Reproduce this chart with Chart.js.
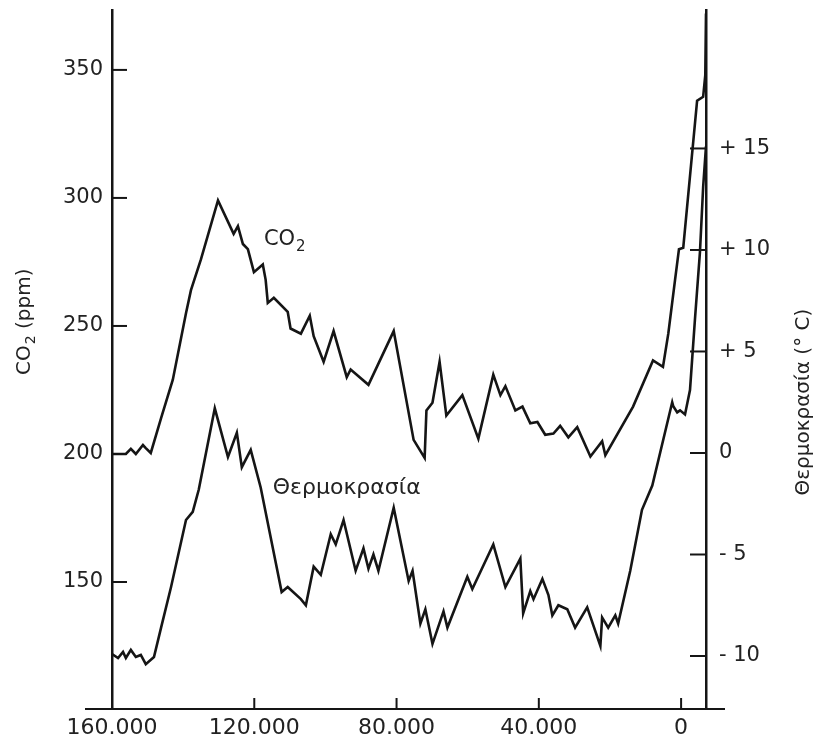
<!DOCTYPE html>
<html>
<head>
<meta charset="utf-8">
<script src="https://cdn.jsdelivr.net/npm/chart.js@4.4.0/dist/chart.umd.min.js"></script>
<style>
  html, body { margin: 0; padding: 0; background: #fff; }
</style>
</head>
<body>
<canvas id="vostokChart" width="820" height="740"></canvas>
<script>
"use strict";

// thousands of years before present
const co2Years = [160, 158.3, 156.1, 154.7, 153.3, 151.3, 150.5, 149.1, 146.2, 142.9,
  139.2, 137.8, 135.0, 130.2, 125.8, 124.6, 123.2, 121.8, 120.1, 117.6,
  116.8, 116.2, 114.5, 110.6, 109.8, 106.9, 104.4, 103.3, 100.5, 97.7,
  94.0, 92.9, 87.9, 80.8, 75.2, 72.1, 71.6, 69.9, 67.9, 66.0,
  61.5, 57.0, 52.8, 50.8, 49.4, 46.6, 44.6, 42.4, 40.4, 38.2,
  35.9, 34.0, 31.7, 29.2, 25.5, 22.2, 21.3, 13.5, 7.9, 5.1,
  3.6, 1.7, 0.6, -0.6, -4.5, -6.2, -6.8, -7.0];
const co2Ppm = [200, 200, 200, 202, 200, 203.5, 202.3, 200.4, 214, 229,
  255, 264, 276, 299, 286, 289, 282, 280, 271, 274,
  268, 259, 261, 255.5, 249, 247, 254, 246, 236, 248,
  230, 233, 227, 248, 205.5, 198.5, 217, 220, 236, 215,
  223, 206, 231, 223, 226.5, 217, 218.5, 212, 212.5, 207.5,
  208, 211, 206.5, 210.5, 199, 205, 199.5, 218.5, 236.5, 234,
  247, 268, 280, 280.5, 338, 339.5, 348, 372];

const tempYears = [160, 158.3, 156.9, 156.1, 154.7, 153.3, 151.9, 150.5, 148.2, 146.2,
  143.4, 139.2, 137.3, 135.6, 131.1, 127.4, 124.9, 123.5, 121.0, 118.2,
  112.3, 110.6, 106.9, 105.5, 103.3, 101.3, 98.5, 97.1, 94.9, 91.5,
  89.3, 87.9, 86.5, 85.1, 80.8, 76.6, 75.5, 73.3, 71.9, 69.9,
  66.8, 65.7, 60.1, 58.7, 52.8, 49.4, 45.2, 44.4, 42.4, 41.5,
  39.0, 37.3, 36.2, 34.5, 32.0, 29.8, 26.4, 22.7, 22.2, 20.5,
  18.5, 17.7, 14.3, 11.0, 8.1, 2.5, 2.2, 1.1, 0.3, -1.1,
  -2.5, -3.1, -3.9, -5.3, -6.2, -7.0];
const tempDeg = [-9.9, -10.1, -9.8, -10.1, -9.7, -10.05, -9.95, -10.4, -10.05, -8.6,
  -6.6, -3.3, -2.9, -1.8, 2.2, -0.2, 1.0, -0.7, 0.15, -1.7,
  -6.85, -6.6, -7.2, -7.5, -5.6, -6.0, -4.0, -4.5, -3.3, -5.8,
  -4.7, -5.7, -5.0, -5.8, -2.7, -6.3, -5.8, -8.4, -7.7, -9.4,
  -7.8, -8.6, -6.1, -6.7, -4.5, -6.6, -5.2, -7.9, -6.8, -7.2,
  -6.2, -7.0, -8.0, -7.5, -7.7, -8.6, -7.6, -9.5, -8.1, -8.6,
  -8.0, -8.4, -5.8, -2.8, -1.6, 2.5, 2.3, 2.0, 2.1, 1.9,
  3.1, 4.6, 6.6, 9.9, 13.1, 15.1];

const xTicks = [160, 120, 80, 40, 0];
const co2Ticks = [150, 200, 250, 300, 350];
const tempTicks = [-10, -5, 0, 5, 10, 15];
const tempTickLabels = ["- 10", "- 5", "0", "+ 5", "+ 10", "+ 15"];

const INK = "#151515";
const FONT = "'DejaVu Sans', sans-serif";

const co2Points = co2Years.map((yr, i) => ({ x: yr, y: co2Ppm[i] }));
const tempPoints = tempYears.map((yr, i) => ({ x: yr, y: tempDeg[i] }));

// ticks drawn inward from the axis lines, and the base line running past both sides
const innerTicks = {
  id: "innerTicks",
  afterDatasetsDraw(chart) {
    const ctx = chart.ctx;
    const a = chart.chartArea;
    const { x, y, y1 } = chart.scales;
    const seg = (x0, y0, x1, y1_) => {
      ctx.beginPath(); ctx.moveTo(x0, y0); ctx.lineTo(x1, y1_); ctx.stroke();
    };
    ctx.save();
    ctx.strokeStyle = INK;
    ctx.lineWidth = 2;
    co2Ticks.forEach(v => { const p = y.getPixelForValue(v); seg(a.left, p, a.left + 15, p); });
    tempTicks.forEach(v => { const p = y1.getPixelForValue(v); seg(a.right - 16, p, a.right, p); });
    xTicks.filter(v => v !== 160).forEach(v => {
      const p = x.getPixelForValue(v); seg(p, a.bottom, p, a.bottom - 11);
    });
    seg(a.left - 27, a.bottom, a.right + 19, a.bottom);
    ctx.restore();
  }
};

// curve labels and the two axis titles
const labels = {
  id: "labels",
  afterDraw(chart) {
    const ctx = chart.ctx;
    const a = chart.chartArea;
    const { x, y } = chart.scales;
    ctx.save();
    ctx.fillStyle = "#222";
    ctx.textBaseline = "middle";
    ctx.textAlign = "left";

    // CO2 next to the upper curve
    let px = x.getPixelForValue(117.3), py = y.getPixelForValue(283.6);
    ctx.font = "21px " + FONT;
    ctx.fillText("CO", px, py);
    let w = ctx.measureText("CO").width;
    ctx.font = "15px " + FONT;
    ctx.fillText("2", px + w + 1, py + 7);

    // Θερμοκρασία next to the lower curve
    ctx.font = "22px " + FONT;
    ctx.fillText("Θερμοκρασία", x.getPixelForValue(114.8), y.getPixelForValue(186.7));

    // left title, rotated, with subscript
    ctx.font = "20px " + FONT;
    const wCO = ctx.measureText("CO").width;
    const wRest = ctx.measureText(" (ppm)").width;
    ctx.font = "14px " + FONT;
    const w2 = ctx.measureText("2").width;
    const total = wCO + w2 + 1 + wRest;
    ctx.save();
    ctx.translate(a.left - 87, a.top + (a.bottom - a.top) * 0.446);
    ctx.rotate(-Math.PI / 2);
    let sx = -total / 2;
    ctx.font = "20px " + FONT;
    ctx.fillText("CO", sx, 0);
    ctx.font = "14px " + FONT;
    ctx.fillText("2", sx + wCO + 1, 6);
    ctx.font = "20px " + FONT;
    ctx.fillText(" (ppm)", sx + wCO + w2 + 1, 0);
    ctx.restore();

    // right title, rotated
    ctx.save();
    ctx.translate(a.right + 98, a.top + (a.bottom - a.top) * 0.561);
    ctx.rotate(-Math.PI / 2);
    ctx.textAlign = "center";
    ctx.font = "20px " + FONT;
    ctx.fillText("Θερμοκρασία (° C)", 0, 0);
    ctx.restore();

    ctx.restore();
  }
};

// keep the plot frame where the figure has it: no extra room for label overhang
const fixVertical = (width) => (scale) => {
  scale.width = width;
  scale.paddingTop = 0;
  scale.paddingBottom = 0;
};

const config = {
  type: "line",
  data: {
    datasets: [
      {
        label: "CO2",
        data: co2Points,
        yAxisID: "y",
        borderColor: INK,
        borderWidth: 2.6,
        pointRadius: 0,
        tension: 0,
      },
      {
        label: "Θερμοκρασία",
        data: tempPoints,
        yAxisID: "y1",
        borderColor: INK,
        borderWidth: 2.6,
        pointRadius: 0,
        tension: 0,
      },
    ],
  },
  options: {
    responsive: false,
    animation: false,
    devicePixelRatio: 1,
    layout: { padding: { top: 10, left: 0, right: 0, bottom: 0 } },
    plugins: { legend: { display: false }, tooltip: { enabled: false } },
    scales: {
      x: {
        type: "linear",
        reverse: true,
        min: -7,
        max: 160,
        grid: { display: false, drawTicks: false },
        border: { display: false },
        afterBuildTicks: (scale) => { scale.ticks = xTicks.map(v => ({ value: v })); },
        afterFit: (scale) => {
          scale.height = 31;
          scale.paddingLeft = 0;
          scale.paddingRight = 0;
        },
        ticks: {
          color: "#222",
          font: { family: FONT, size: 22 },
          padding: 6,
          maxRotation: 0,
          autoSkip: false,
          callback: (v) => (v === 0 ? "0" : v + ".000"),
        },
      },
      y: {
        position: "left",
        min: 100.4,
        max: 373.4,
        grid: { display: false, drawTicks: false },
        border: { display: true, color: INK, width: 2.5 },
        afterBuildTicks: (scale) => { scale.ticks = co2Ticks.map(v => ({ value: v })); },
        afterFit: fixVertical(112),
        ticks: {
          color: "#222",
          font: { family: FONT, size: 21 },
          padding: 9,
        },
      },
      y1: {
        position: "right",
        min: -12.61,
        max: 21.82,
        grid: { display: false, drawTicks: false },
        border: { display: true, color: INK, width: 2.5 },
        afterBuildTicks: (scale) => { scale.ticks = tempTicks.map(v => ({ value: v })); },
        afterFit: fixVertical(114),
        ticks: {
          color: "#222",
          font: { family: FONT, size: 21 },
          padding: 13,
          callback: (v) => tempTickLabels[tempTicks.indexOf(v)],
        },
      },
    },
  },
  plugins: [innerTicks, labels],
};

const vostokChart = new Chart(document.getElementById("vostokChart"), config);
</script>
</body>
</html>
